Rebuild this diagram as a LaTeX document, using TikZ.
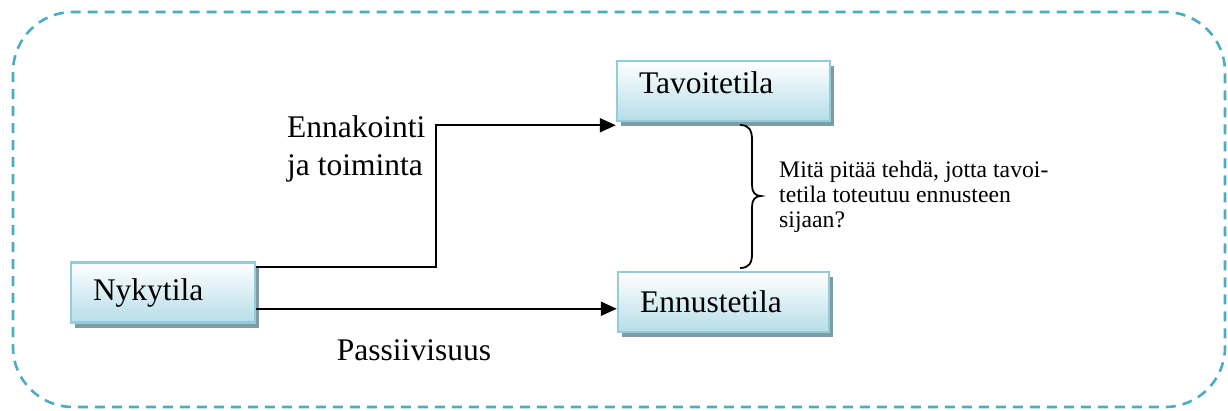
\documentclass[tikz,border=0pt]{standalone}
\usepackage{fontspec}
\setmainfont{Liberation Serif}
\usetikzlibrary{arrows.meta,shadows,calc}
\definecolor{dashblue}{HTML}{4BACC6}
\definecolor{boxedge}{HTML}{92CDDC}
\definecolor{boxfill}{HTML}{B6DDE8}
\definecolor{shadowc}{HTML}{7F9CA4}
\begin{document}
\begin{tikzpicture}[x=1pt,y=-1pt,
  statebox/.style={draw=boxedge,line width=2.5pt,top color=white,bottom color=boxfill,
    minimum height=60pt,inner xsep=22pt,inner ysep=0pt,align=left,
    font=\fontsize{31.5}{38}\selectfont,
    drop shadow={shadow xshift=4pt,shadow yshift=-5pt,fill=shadowc,opacity=1}},
  arr/.style={line width=2.2pt,-{Triangle[length=16pt,width=14pt]}},
  lbl/.style={font=\fontsize{31.5}{38}\selectfont,inner sep=0pt,align=left},
  small/.style={font=\fontsize{23.7}{25}\selectfont,inner sep=0pt,align=left}]
\useasboundingbox (0,0) rectangle (1228,410);
\draw[dashblue,line width=2.6pt,dash pattern=on 10pt off 7pt,rounded corners=60pt]
  (13,12) rectangle (1225,407);
\node[statebox,text width=169pt] (tav) at (723.5,91) {\raisebox{8pt}[\height][\depth]{Tavoitetila}};
\node[statebox,text width=140pt] (nyk) at (163,292.5) {Nykytila};
\node[statebox,text width=167pt] (enn) at (723.5,302) {Ennustetila};
\coordinate (n1) at ($(nyk.north east)+(0,6)$);
\coordinate (n2) at ($(nyk.south east)+(0,-15)$);
\coordinate (t1) at ($(tav.south west)+(0,3)$);
\draw[arr] (n1) -- ++(180,0) |- (t1);
\draw[arr] (n2) -- (enn.west |- n2);
\node[lbl,anchor=west] (lab1) at (287,149) {Ennakointi\\ja toiminta};
\node[lbl] (lab2) at (414,350) {Passiivisuus};
\coordinate (b1) at (740,125);
\coordinate (b2) at (740,268);
\draw[line width=1.8pt] (b1) .. controls (749,125) and (752,130) .. (752,140)
  -- (752,185) .. controls (752,192) and (755,196) .. (761,196)
  .. controls (755,196) and (752,200) .. (752,207)
  -- (752,254) .. controls (752,263) and (749,268) .. (b2);
\node[small,anchor=west] (q) at (779,197) {Mitä pitää tehdä, jotta tavoi-\\tetila toteutuu ennusteen\\sijaan?};
\end{tikzpicture}
\end{document}
